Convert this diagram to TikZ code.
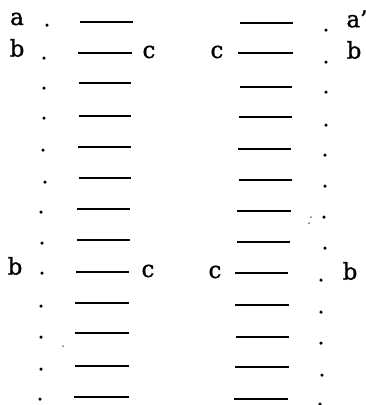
\documentclass[tikz,border=0pt]{standalone}
\usepackage{fontspec}
\newfontfamily\lblfont[FakeBold=1.2]{DejaVu Serif}
\begin{document}
\begin{tikzpicture}[x=1pt,y=-1pt,
  rung/.style={line width=1.7pt,line cap=butt},
  pt/.style={circle,fill=black,inner sep=0pt,minimum size=3.5pt},
  speck/.style={circle,fill=black,inner sep=0pt,minimum size=1.5pt},
  lbl/.style={inner sep=0pt,font=\lblfont\fontsize{23}{26}\selectfont}]
\useasboundingbox (0,0) rectangle (366,405);

% left column: short strokes and the dots beside them
\foreach \i/\xa/\xb/\y/\dx/\dy in {
  1/80/133/22/47/25, 2/78/132/53/44/58, 3/79/131/83/44/88,
  4/79/131/116/44/118, 5/78/131/147/43/150, 6/79/131/178/45/182,
  7/77/130/209/41/212, 8/77/130/240/42/243, 9/76/129/272/42/273,
  10/75/129/303/41/306, 11/75/129/333/41/337, 12/75/129/366/41/369,
  13/74/129/397/40/399}{
  \coordinate (L\i a) at (\xa,\y);
  \coordinate (L\i b) at (\xb,\y);
  \draw[rung] (L\i a) -- (L\i b);
  \node[pt] (Ld\i) at (\dx,\dy) {};
}

% right column
\foreach \i/\xa/\xb/\y/\dx/\dy in {
  1/240/293/23/326/30, 2/238/293/53/326/62, 3/240/292/87/326/92,
  4/239/292/117/326/125, 5/238/291/149/325/155, 6/239/292/180/325/186,
  7/237/291/211/324/217, 8/237/290/242/325/248, 9/235/288/273/321/280,
  10/235/289/305/321/312, 11/236/289/337/321/343, 12/235/289/367/322/375,
  13/234/288/399/320/404}{
  \coordinate (R\i a) at (\xa,\y);
  \coordinate (R\i b) at (\xb,\y);
  \draw[rung] (R\i a) -- (R\i b);
  \node[pt] (Rd\i) at (\dx,\dy) {};
}

% letters
\node[lbl] (la)  at (17,19)  {a};
\node[lbl] (lb1) at (17,48)  {b};
\node[lbl] (lc1) at (149,52) {c};
\node[lbl] (rc1) at (217,52) {c};
\node[lbl] (ra)  at (357,19) {a’};
\node[lbl] (rb1) at (354,50) {b};
\node[lbl] (lb2) at (15,266) {b};
\node[lbl] (lc2) at (148,271){c};
\node[lbl] (rc2) at (215,272){c};
\node[lbl] (rb2) at (350,271){b};

% stray specks
\node[speck] (s1) at (63,346) {};
\node[speck] (s2) at (311,217) {};
\node[speck] (s3) at (309,223) {};
\end{tikzpicture}
\end{document}
